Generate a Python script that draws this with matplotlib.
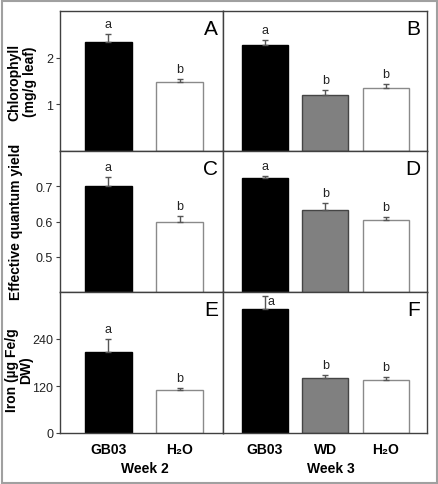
import numpy as np
import matplotlib.pyplot as plt
from matplotlib.patches import Rectangle

plt.rcParams['font.family'] = ['Liberation Sans', 'DejaVu Sans']

# data
week2_groups = ['GB03', 'H₂O']
week3_groups = ['GB03', 'WD', 'H₂O']

chl_w2 = [2.34, 1.47]
chl_w2_err = [0.16, 0.07]
chl_w3 = [2.27, 1.20, 1.35]
chl_w3_err = [0.11, 0.10, 0.08]

qy_w2 = [0.700, 0.600]
qy_w2_err = [0.027, 0.016]
qy_w3 = [0.722, 0.632, 0.605]
qy_w3_err = [0.007, 0.020, 0.008]

fe_w2 = [207, 110]
fe_w2_err = [33, 4]
fe_w3 = [317, 140, 136]
fe_w3_err = [32, 9, 7]

sig_w2 = [['a', 'b'], ['a', 'b'], ['a', 'b']]
sig_w3 = [['a', 'b', 'b'], ['a', 'b', 'b'], ['a', 'b', 'b']]

panel_letters = [['A', 'B'], ['C', 'D'], ['E', 'F']]
ylabels = ['Chlorophyll\n(mg/g leaf)', 'Effective quantum yield', 'Iron (µg Fe/g\nDW)']
ylims = [(0, 3), (0.4, 0.8), (0, 360)]
yticks = [[1, 2], [0.5, 0.6, 0.7], [0, 120, 240]]
yticklabels = [['1', '2'], ['0.5', '0.6', '0.7'], ['0', '120', '240']]

fills2 = ['black', 'white']
edges2 = ['black', '#8a8a8a']
fills3 = ['black', '#808080', 'white']
edges3 = ['black', '#454545', '#8a8a8a']

W, H = 438, 485
fig = plt.figure(figsize=(W / 100, H / 100), dpi=100)

col_x = [(60, 223), (223, 427)]
row_y = [(12, 152), (152, 293), (293, 434)]

rows = [
    ((chl_w2, chl_w2_err), (chl_w3, chl_w3_err)),
    ((qy_w2, qy_w2_err), (qy_w3, qy_w3_err)),
    ((fe_w2, fe_w2_err), (fe_w3, fe_w3_err)),
]

spine_col = '#404040'

for r in range(3):
    for c in range(2):
        x0, x1 = col_x[c]
        yt, yb = row_y[r]
        ax = fig.add_axes([x0 / W, 1 - yb / H, (x1 - x0) / W, (yb - yt) / H])
        vals, errs = rows[r][c]
        if c == 0:
            xs = np.arange(1, 3)
            width = 0.654
            fills, edges = fills2, edges2
            sig = sig_w2[r]
            ax.set_xlim(0.324, 2.606)
        else:
            xs = np.arange(1, 4)
            width = 0.76
            fills, edges = fills3, edges3
            sig = sig_w3[r]
            ax.set_xlim(0.313, 3.675)
        ax.bar(xs, vals, width=width, color=fills, edgecolor=edges, linewidth=1.0, zorder=2)
        ax.errorbar(xs, vals, yerr=[np.zeros(len(vals)), errs], fmt='none',
                    ecolor='#555555', elinewidth=1.0, capsize=2, capthick=1.0, zorder=3)
        for i, (x, v, e, s) in enumerate(zip(xs, vals, errs, sig)):
            if r == 2 and c == 1 and i == 0:
                ax.annotate(s, xy=(x, v + e), xytext=(3, -5), textcoords='offset pixels',
                            ha='left', va='center', fontsize=9, color='#222222')
            else:
                ax.annotate(s, xy=(x, v + e), xytext=(0, 4), textcoords='offset pixels',
                            ha='center', va='bottom', fontsize=9, color='#222222')
        ax.set_ylim(*ylims[r])
        ax.annotate(panel_letters[r][c], xy=(1, 1), xycoords='axes fraction',
                    xytext=(-5 if c == 0 else -7, -8), textcoords='offset pixels',
                    ha='right', va='top', fontsize=15, color='black')
        for sp in ax.spines.values():
            sp.set_color(spine_col)
            sp.set_linewidth(1.0)
        ax.tick_params(axis='x', bottom=False, labelbottom=False)
        if c == 0:
            ax.set_yticks(yticks[r])
            ax.set_yticklabels(yticklabels[r])
            ax.tick_params(axis='y', direction='out', length=3, width=0.8,
                           color=spine_col, labelsize=9, labelcolor='#222222', pad=2)
        else:
            ax.tick_params(axis='y', left=False, labelleft=False)
        if r == 2:
            ax.set_xticks(xs)
            ax.set_xticklabels(week2_groups if c == 0 else week3_groups,
                               fontsize=10, fontweight='bold')
            ax.tick_params(axis='x', labelbottom=True, pad=3)

# y labels
fig.text(22 / W, 1 - 82 / H, ylabels[0], rotation=90, ha='center', va='center',
         fontsize=10, fontweight='bold', multialignment='center', linespacing=1.1)
fig.text(16 / W, 1 - 222 / H, ylabels[1], rotation=90, ha='center', va='center',
         fontsize=10, fontweight='bold')
fig.text(19 / W, 1 - 370 / H, ylabels[2], rotation=90, ha='center', va='center',
         fontsize=10, fontweight='bold', multialignment='center', linespacing=1.0)

# week labels
fig.text(145 / W, 1 - 469 / H, 'Week 2', ha='center', va='center', fontsize=10, fontweight='bold')
fig.text(331 / W, 1 - 469 / H, 'Week 3', ha='center', va='center', fontsize=10, fontweight='bold')

# outer grey frame
fig.patches.append(Rectangle((1.5 / W, 1.5 / H), (W - 3) / W, (H - 3) / H,
                             transform=fig.transFigure, fill=False,
                             edgecolor='#a0a0a0', linewidth=1.5))

plt.savefig('out.png', dpi=100)
